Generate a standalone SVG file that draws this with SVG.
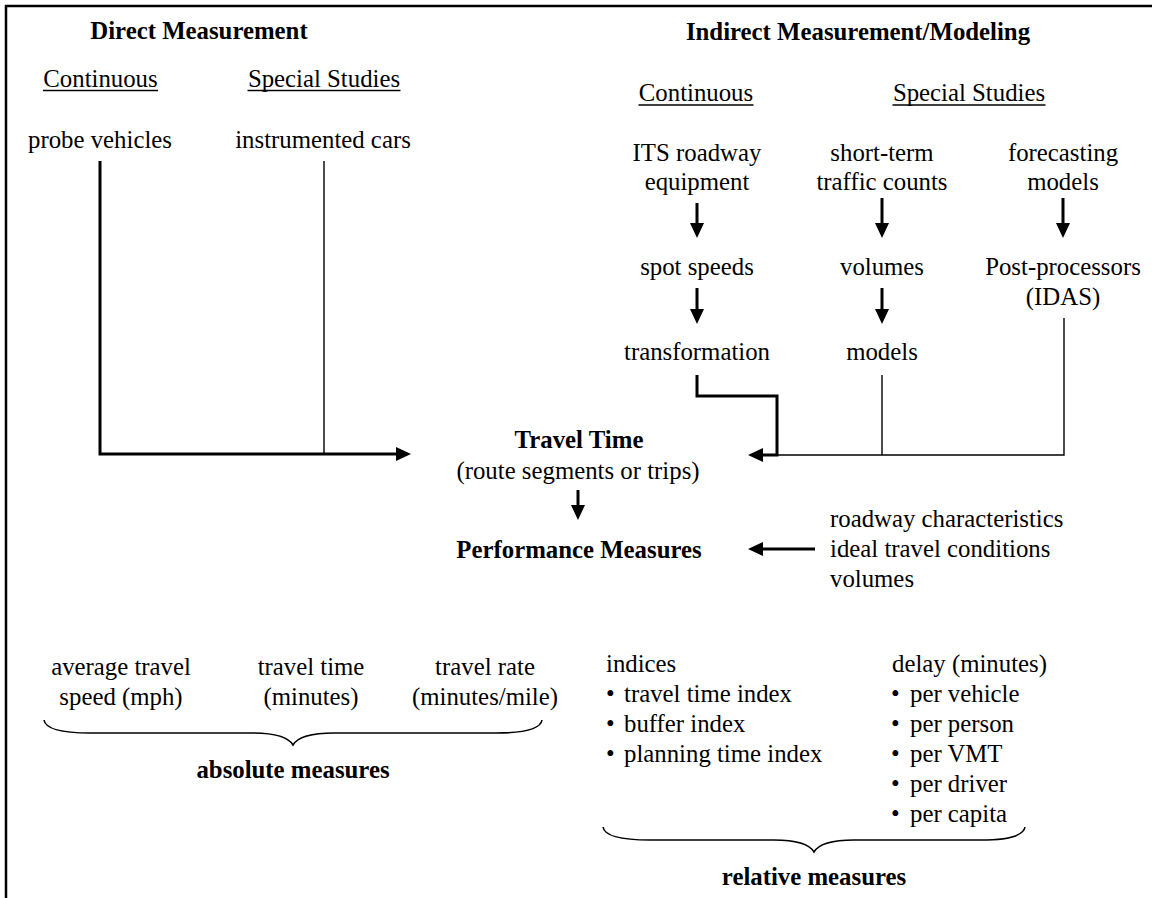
<svg xmlns="http://www.w3.org/2000/svg" width="1152" height="898" viewBox="0 0 1152 898">
<style>
text{font-family:"Liberation Serif","Times New Roman",serif;font-size:24.8px;fill:#000}
.b{font-weight:bold}
.m{text-anchor:middle}
.thick{stroke:#000;stroke-width:3;fill:none}
.thin{stroke:#000;stroke-width:1.4;fill:none}
.ul{stroke:#000;stroke-width:1.5}
.brace{stroke:#000;stroke-width:1.6;fill:none}
</style>
<defs>
<marker id="ah" markerUnits="userSpaceOnUse" markerWidth="15" markerHeight="14" refX="11" refY="7" orient="auto">
<path d="M0,0 L15,7 L0,14 z" fill="#000"/>
</marker>
</defs>
<rect width="1152" height="898" fill="#fff"/>
<g id="frame">
<line x1="5" y1="6" x2="1152" y2="6" stroke="#000" stroke-width="2.5"/>
<line x1="6" y1="5" x2="6" y2="898" stroke="#000" stroke-width="2.5"/>
</g>
<g id="headers">
<text class="b m" x="199" y="39">Direct Measurement</text>
<text class="b m" x="858" y="40">Indirect Measurement/Modeling</text>
<text class="m" x="100.5" y="87">Continuous</text>
<line class="ul" x1="43" y1="90.5" x2="158" y2="90.5"/>
<text class="m" x="324" y="87">Special Studies</text>
<line class="ul" x1="247.5" y1="90.5" x2="400.5" y2="90.5"/>
<text class="m" x="696" y="101">Continuous</text>
<line class="ul" x1="638.5" y1="105" x2="753.5" y2="105"/>
<text class="m" x="969" y="101">Special Studies</text>
<line class="ul" x1="892.5" y1="105" x2="1045.5" y2="105"/>
</g>
<g id="probe"><text class="m" x="100" y="148">probe vehicles</text></g>
<g id="instrumented"><text class="m" x="323" y="148">instrumented cars</text></g>
<g id="its"><text class="m" x="697" y="161">ITS roadway</text><text class="m" x="697" y="190">equipment</text></g>
<g id="shortterm"><text class="m" x="882" y="161">short-term</text><text class="m" x="882" y="190">traffic counts</text></g>
<g id="forecasting"><text class="m" x="1063" y="161">forecasting</text><text class="m" x="1063" y="190">models</text></g>
<g id="spotspeeds"><text class="m" x="697" y="275">spot speeds</text></g>
<g id="volumes1"><text class="m" x="882" y="275">volumes</text></g>
<g id="postproc"><text class="m" x="1063" y="275">Post-processors</text><text class="m" x="1063" y="305">(IDAS)</text></g>
<g id="transformation"><text class="m" x="697" y="360">transformation</text></g>
<g id="models"><text class="m" x="882" y="360">models</text></g>
<g id="traveltime"><text class="b m" x="579" y="448">Travel Time</text><text class="m" x="578" y="479">(route segments or trips)</text></g>
<g id="perf"><text class="b m" x="579" y="558">Performance Measures</text></g>
<g id="inputs"><text x="830" y="527">roadway characteristics</text><text x="830" y="557">ideal travel conditions</text><text x="830" y="587">volumes</text></g>
<g id="absolute">
<text class="m" x="121" y="675">average travel</text><text class="m" x="121" y="705">speed (mph)</text>
<text class="m" x="311" y="675">travel time</text><text class="m" x="311" y="705">(minutes)</text>
<text class="m" x="485" y="675">travel rate</text><text class="m" x="485" y="705">(minutes/mile)</text>
<path class="brace" d="M44,720 Q46,733 90,733 L252,733 Q286,733 293,745 Q300,733 334,733 L496,733 Q540,733 542,720"/>
<text class="b m" x="293" y="778">absolute measures</text>
</g>
<g id="relative">
<text x="606" y="672">indices</text>
<text x="606" y="702">•</text><text x="624" y="702">travel time index</text>
<text x="606" y="732">•</text><text x="624" y="732">buffer index</text>
<text x="606" y="762">•</text><text x="624" y="762">planning time index</text>
<text x="892" y="672">delay (minutes)</text>
<text x="891" y="702">•</text><text x="910" y="702">per vehicle</text>
<text x="891" y="732">•</text><text x="910" y="732">per person</text>
<text x="891" y="762">•</text><text x="910" y="762">per VMT</text>
<text x="891" y="792">•</text><text x="910" y="792">per driver</text>
<text x="891" y="822">•</text><text x="910" y="822">per capita</text>
<path class="brace" d="M603,827 Q605,840 650,840 L774,840 Q807,840 814,852 Q821,840 854,840 L980,840 Q1023,840 1025,827"/>
<text class="b m" x="814" y="885">relative measures</text>
</g>
<g id="connectors">
<polyline class="thick" points="100,161 100,454 407,454" marker-end="url(#ah)"/>
<line class="thin" x1="324" y1="161" x2="324" y2="454"/>
<line class="thick" x1="697" y1="203" x2="697" y2="234" marker-end="url(#ah)"/>
<line class="thick" x1="882" y1="198" x2="882" y2="234" marker-end="url(#ah)"/>
<line class="thick" x1="1063" y1="198" x2="1063" y2="234" marker-end="url(#ah)"/>
<line class="thick" x1="697" y1="288" x2="697" y2="320" marker-end="url(#ah)"/>
<line class="thick" x1="882" y1="288" x2="882" y2="320" marker-end="url(#ah)"/>
<polyline class="thick" points="697,375 697,396 777,396 777,455 752,455" marker-end="url(#ah)"/>
<line class="thin" x1="882" y1="375" x2="882" y2="455"/>
<polyline class="thin" points="1064,318 1064,455 777,455"/>
<line class="thick" x1="578" y1="490" x2="578" y2="516" marker-end="url(#ah)"/>
<line class="thick" x1="815" y1="549" x2="752" y2="549" marker-end="url(#ah)"/>
</g>
</svg>
